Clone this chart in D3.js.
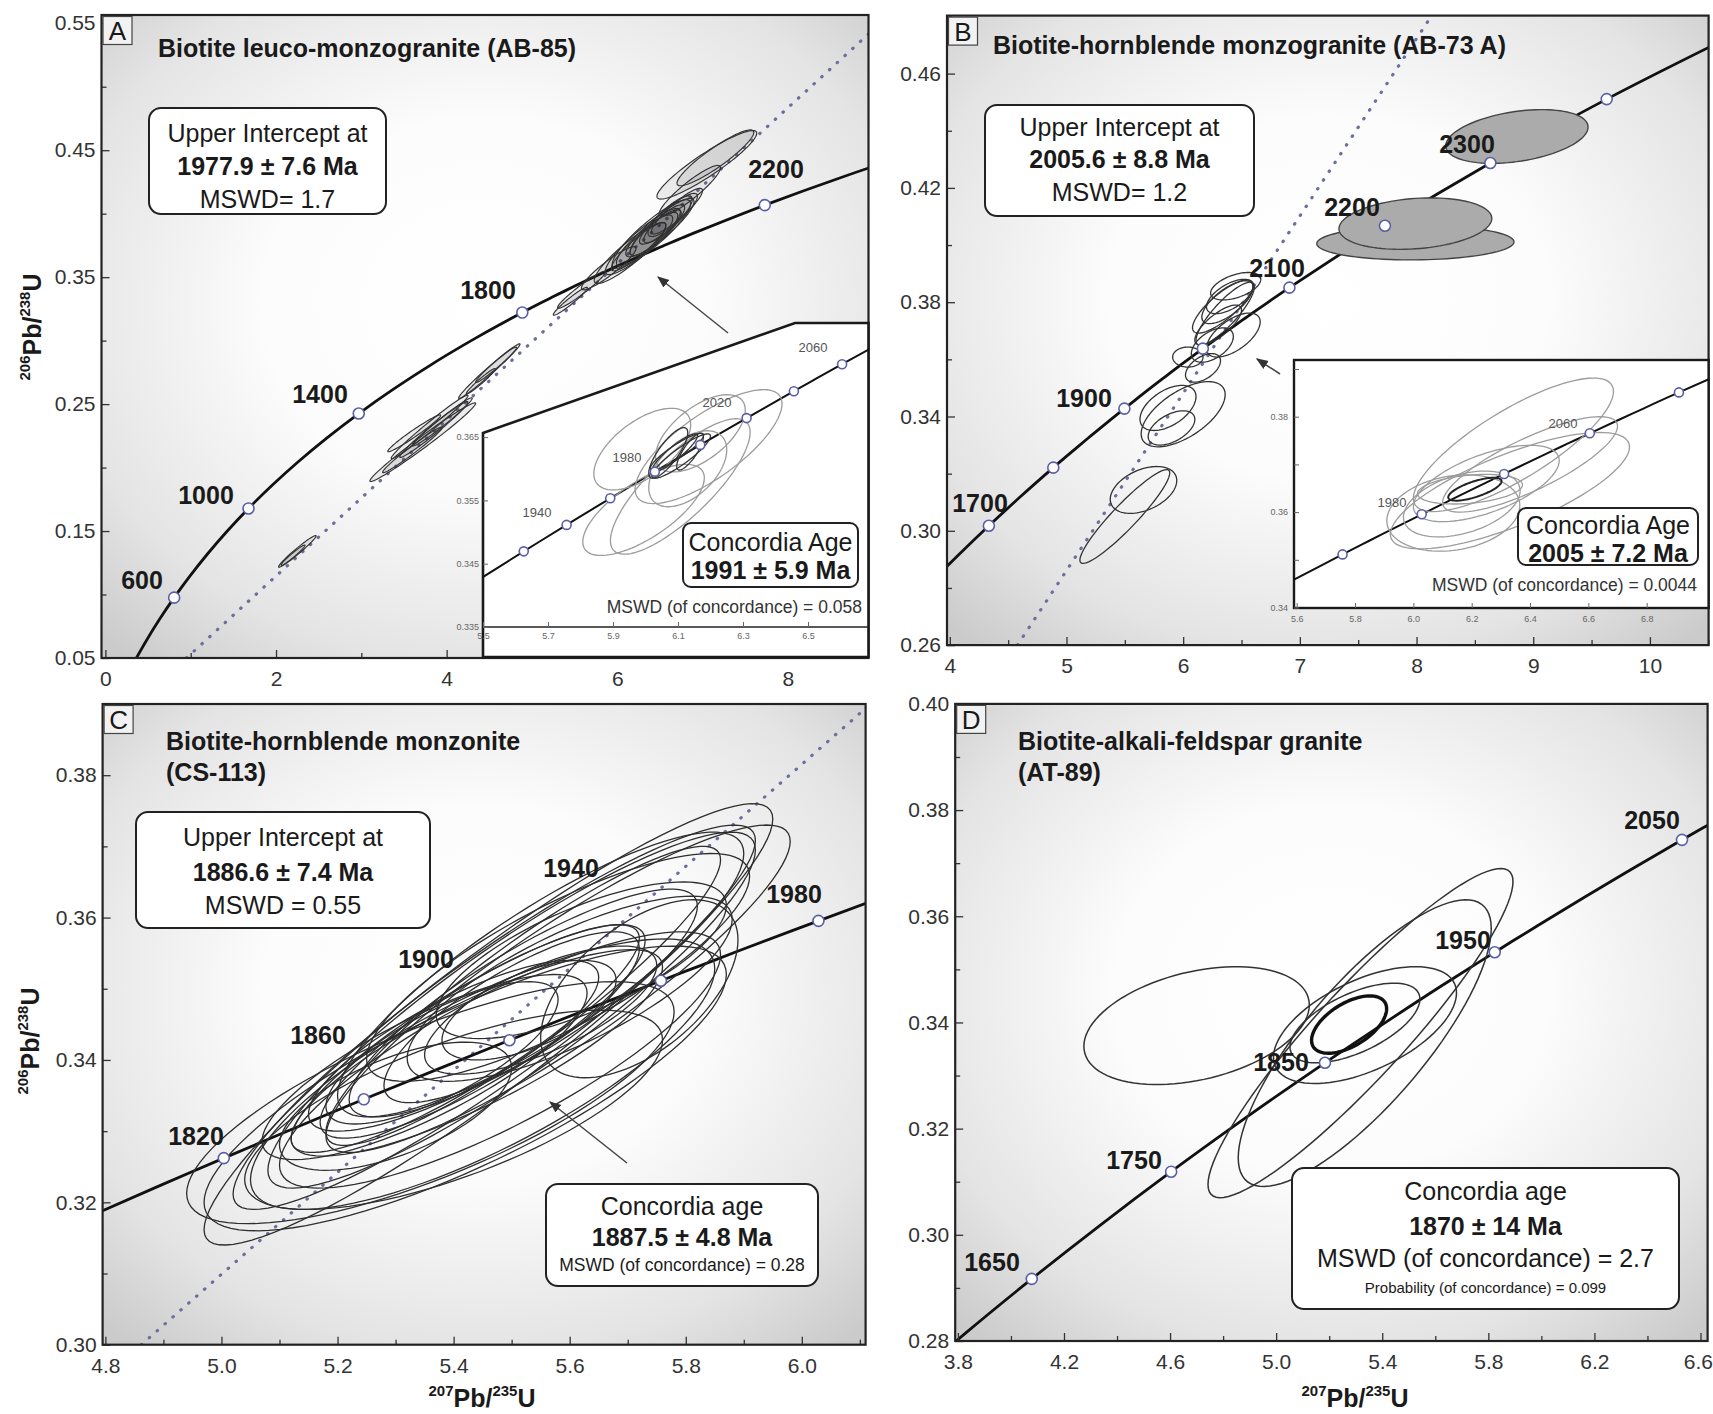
<!DOCTYPE html>
<html><head><meta charset="utf-8">
<script src="https://cdn.jsdelivr.net/npm/d3@7"></script>
<style>body{margin:0;background:#fff}svg{display:block}text{font-family:"Liberation Sans",Arial,sans-serif}</style>
</head><body><svg id="c" width="1713" height="1414"></svg>
<script>
// ================= DATA =================
// Concordia reference points (age Ma, 207Pb/235U, 206Pb/238U)
const concordiaAge = [300,400,500,600,700,800,900,1000,1100,1200,1300,1400,1500,1600,1650,1700,1750,1800,1820,1850,1860,1900,1920,1940,1950,1960,1980,2000,2020,2040,2050,2060,2080,2100,2200,2300,2400,2500];
const concordia207 = [0.3437,0.4828,0.6362,0.8057,0.9925,1.1988,1.4264,1.6774,1.9546,2.2603,2.5978,2.9699,3.3810,3.8344,4.0784,4.3348,4.6041,4.8869,5.0040,5.1840,5.2453,5.4962,5.6254,5.7572,5.8241,5.8916,6.0287,6.1685,6.3111,6.4566,6.5303,6.6049,6.7562,6.9105,7.7292,8.6326,9.6297,10.7297];
const concordia206 = [0.04764,0.06402,0.08065,0.09754,0.11470,0.13213,0.14983,0.16782,0.18606,0.20460,0.22343,0.24257,0.26199,0.28172,0.29170,0.30175,0.31189,0.32210,0.32621,0.33240,0.33447,0.34277,0.34695,0.35113,0.35322,0.35533,0.35954,0.36377,0.36800,0.37225,0.37439,0.37652,0.38080,0.38509,0.40674,0.42873,0.45107,0.47375];

// Panel A
const markersA = [600,1000,1400,1800,2200];
const labelsA = ["600","1000","1400","1800","2200"];
const discordiaA = [[0.95,0.05],[8.945,0.5415]];
const xTicksA = [0,2,4,6,8], xMinorA = [1,3,5,7];
const yTicksA = [0.05,0.15,0.25,0.35,0.45,0.55], yMinorA = [0.10,0.20,0.30,0.40,0.50];
// error ellipses: [x, sx, y, sy, rho]
const ellipsesA = [
 [2.25,0.22,0.134,0.0125,0.975],[2.20,0.14,0.131,0.0080,0.97],
 [3.72,0.62,0.220,0.0310,0.985],[3.62,0.31,0.227,0.0145,0.975],[3.85,0.40,0.230,0.0220,0.98],
 [3.95,0.35,0.236,0.0190,0.98],[3.60,0.35,0.214,0.0180,0.98],[3.80,0.45,0.232,0.0250,0.985],
 [4.50,0.36,0.276,0.0215,0.985],[4.58,0.24,0.281,0.0140,0.975],[4.40,0.17,0.268,0.0100,0.97],
 [5.45,0.20,0.331,0.0110,0.96],[5.58,0.28,0.340,0.0145,0.96],[5.90,0.32,0.357,0.0170,0.92],
 [6.15,0.42,0.369,0.0240,0.90],[6.30,0.44,0.378,0.0260,0.90],[6.40,0.46,0.384,0.0270,0.89],
 [6.35,0.36,0.380,0.0210,0.88],[6.50,0.40,0.389,0.0230,0.89],[6.25,0.32,0.374,0.0190,0.90],
 [6.45,0.30,0.385,0.0180,0.86],[6.60,0.34,0.396,0.0200,0.89],[6.55,0.24,0.392,0.0150,0.84],
 [6.70,0.30,0.402,0.0180,0.90],[6.85,0.36,0.418,0.0200,0.91],[7.05,0.585,0.4385,0.0270,0.92],
 [7.15,0.45,0.444,0.0220,0.91],[6.40,0.25,0.383,0.0160,0.82],[6.62,0.26,0.398,0.0160,0.83]
];
// Inset A
const insetAMarkers = [1920,1940,1960,1980,2000,2020,2040,2060];
const insetALabels = ["1940","1980","2020","2060"];
const insetAXTicks = [5.5,5.7,5.9,6.1,6.3,6.5];
const insetAYTicks = [0.335,0.345,0.355,0.365];
const insetAEllGrey = [
 [5.99,0.149,0.3631,0.00645,0.6],[5.994,0.187,0.3535,0.0072,0.7],[6.107,0.215,0.3572,0.0107,0.8],
 [6.194,0.226,0.3635,0.0090,0.75],[6.169,0.138,0.3656,0.0061,0.6],[6.13,0.12,0.3600,0.0060,0.5]
];
const insetAEllDark = [
 [6.097,0.082,0.3627,0.0029,0.9],[6.09,0.07,0.3625,0.0030,0.9],[6.11,0.09,0.3620,0.0035,0.9],
 [6.07,0.06,0.3625,0.0040,0.8],[6.137,0.041,0.3627,0.0029,0.8]
];

// Panel B
const markersB = [1700,1800,1900,2000,2100,2200,2300,2400];
const labelsB = ["1700","1900","2100","2200","2300"];
const discordiaB = [[4.58,0.26],[8.13,0.4803]];
const xTicksB = [4,5,6,7,8,9,10], xMinorB = [4.5,5.5,6.5,7.5,8.5,9.5,10.5];
const yTicksB = [0.26,0.30,0.34,0.38,0.42,0.46], yMinorB = [0.28,0.32,0.36,0.40,0.44,0.48];
const ellipsesB = [
 [6.45,0.215,0.3856,0.0048,0.5],[6.34,0.26,0.3785,0.0093,0.8],[6.38,0.22,0.3800,0.0075,0.7],
 [6.43,0.23,0.3685,0.0077,0.6],[6.30,0.20,0.3720,0.0070,0.75],[6.04,0.13,0.3608,0.0035,0.0],
 [6.17,0.15,0.3570,0.0050,0.5],[5.87,0.24,0.3430,0.0079,0.5],[6.00,0.36,0.3408,0.0114,0.6],
 [5.90,0.20,0.3360,0.0060,0.5],[5.66,0.285,0.3143,0.0082,0.4],[5.50,0.385,0.3050,0.0164,0.93],
 [6.40,0.20,0.3820,0.0060,0.6],[6.25,0.18,0.3650,0.0060,0.5],[6.36,0.25,0.3760,0.0110,0.85]
];
const ellipsesBFilled = [
 [8.86,0.61,0.438,0.0094,0.35],[7.99,0.845,0.4008,0.0060,0.05],[7.99,0.655,0.4075,0.0090,0.2]
];
// Inset B
const insetBMarkers = [1940,1980,2020,2060,2100];
const insetBLabels = ["1980","2060"];
const insetBXTicks = [5.6,5.8,6.0,6.2,6.4,6.6,6.8];
const insetBYTicks = [0.34,0.35,0.36,0.37,0.38,0.39];
const insetBEllGrey = [
 [6.343,0.343,0.3741,0.0140,0.8],[6.331,0.41,0.3645,0.0122,0.75],[6.194,0.18,0.3648,0.0031,0.3],
 [6.166,0.20,0.3617,0.0069,0.4],[6.40,0.30,0.3700,0.0100,0.8],[6.25,0.25,0.3660,0.0080,0.6],
 [6.137,0.228,0.3598,0.0080,0.2]
];
const insetBEllDark = [[6.211,0.0914,0.3648,0.0024,0.7]];

// Panel C
const markersC = [1820,1860,1900,1940,1980];
const labelsC = ["1820","1860","1900","1940","1980"];
const discordiaC = [[4.862,0.30],[6.11,0.3894]];
const xTicksC = [4.8,5.0,5.2,5.4,5.6,5.8,6.0], xMinorC = [4.9,5.1,5.3,5.5,5.7,5.9,6.1];
const yTicksC = [0.30,0.32,0.34,0.36,0.38], yMinorC = [0.31,0.33,0.35,0.37,0.39];
const ellipsesC = [
 [5.46,0.49,0.3450,0.0310,0.93],[5.47,0.45,0.3460,0.0270,0.92],[5.50,0.42,0.3470,0.0250,0.90],
 [5.42,0.45,0.3360,0.0200,0.80],[5.45,0.40,0.3380,0.0190,0.78],[5.48,0.38,0.3400,0.0180,0.82],
 [5.55,0.35,0.3520,0.0200,0.85],[5.58,0.33,0.3530,0.0160,0.80],[5.52,0.30,0.3480,0.0160,0.85],
 [5.45,0.28,0.3440,0.0150,0.85],[5.40,0.25,0.3420,0.0120,0.80],[5.50,0.22,0.3460,0.0120,0.80],
 [5.55,0.20,0.3470,0.0090,0.70],[5.60,0.28,0.3500,0.0130,0.75],[5.35,0.28,0.3390,0.0130,0.80],
 [5.38,0.20,0.3410,0.0100,0.75],[5.62,0.25,0.3540,0.0110,0.70],[5.53,0.15,0.3470,0.0070,0.60],
 [5.72,0.17,0.3500,0.0125,0.55],[5.30,0.20,0.3335,0.0090,0.60],[5.42,0.30,0.3430,0.0160,0.88],
 [5.58,0.40,0.3500,0.0230,0.90],[5.40,0.36,0.3330,0.0140,0.70],[5.36,0.42,0.3340,0.0170,0.75],
 [5.52,0.34,0.3490,0.0210,0.91],[5.44,0.32,0.3410,0.0145,0.83]
];

// Panel D
const markersD = [1650,1750,1850,1950,2050];
const labelsD = ["1650","1750","1850","1950","2050"];
const xTicksD = [3.8,4.2,4.6,5.0,5.4,5.8,6.2,6.6], xMinorD = [4.0,4.4,4.8,5.2,5.6,6.0,6.4];
const yTicksD = [0.28,0.30,0.32,0.34,0.36,0.38,0.40], yMinorD = [0.29,0.31,0.33,0.35,0.37,0.39];
const ellipsesD = [
 [4.70,0.425,0.3394,0.0111,0.35],[5.318,0.575,0.338,0.031,0.92],[5.334,0.477,0.3361,0.027,0.80],
 [5.335,0.345,0.3395,0.011,0.55],[5.297,0.245,0.3399,0.0075,0.6]
];
const ellipsesDBold = [[5.275,0.1415,0.3396,0.0054,0.55]];

// ================= DRAWING =================
const FONT = '"Liberation Sans",Arial,sans-serif';
const svg = d3.select('#c');
const defs = svg.append('defs');
const grad = defs.append('radialGradient').attr('id','bg').attr('cx','50%').attr('cy','45%').attr('r','72%');
[[0,'#ffffff'],[0.4,'#fcfcfc'],[0.78,'#e4e4e4'],[1,'#cbcbcb']].forEach(([o,c])=>grad.append('stop').attr('offset',o).attr('stop-color',c));
defs.append('marker').attr('id','arr').attr('viewBox','0 0 10 10').attr('refX',9).attr('refY',5)
  .attr('markerWidth',12).attr('markerHeight',12).attr('markerUnits','userSpaceOnUse').attr('orient','auto')
  .append('path').attr('d','M0,1 L10,5 L0,9 z').attr('fill','#333');

const T = d3.range(0,97).map(i=>i/96*2*Math.PI);
function ellPath(x,y,e){
  const [cx,sx,cy,sy,r]=e, q=Math.sqrt(1-r*r);
  return d3.line()(T.map(t=>[x(cx+sx*Math.cos(t)), y(cy+sy*(r*Math.cos(t)+q*Math.sin(t)))]))+'Z';
}
const concPts = concordiaAge.map((a,i)=>[concordia207[i],concordia206[i]]);
function concAt(a){const i=concordiaAge.indexOf(a);return [concordia207[i],concordia206[i]];}

function drawEllipses(g,x,y,arr,stroke,width,fill){
  g.selectAll(null).data(arr).enter().append('path').attr('d',d=>ellPath(x,y,d))
   .attr('fill',fill||'none').attr('stroke',stroke).attr('stroke-width',width);
}
function drawMarkers(g,x,y,ages,r){
  g.selectAll(null).data(ages).enter().append('circle')
   .attr('cx',a=>x(concAt(a)[0])).attr('cy',a=>y(concAt(a)[1])).attr('r',r)
   .attr('fill','#fff').attr('stroke','#5a5ea8').attr('stroke-width',1.6);
}
function txt(g,s,x,y,opt={}){
  return g.append('text').attr('x',x).attr('y',y).attr('text-anchor',opt.anchor||'middle')
   .attr('dominant-baseline','central').attr('font-size',opt.size||25).attr('font-weight',opt.bold?'bold':'normal')
   .attr('fill',opt.fill||'#1a1a1a').text(s);
}
function box(g,x0,y0,x1,y1,lines,rx=12){
  g.append('rect').attr('x',x0).attr('y',y0).attr('width',x1-x0).attr('height',y1-y0).attr('rx',rx)
   .attr('fill','#fff').attr('stroke','#222').attr('stroke-width',2);
  lines.forEach(l=>txt(g,l.t,(x0+x1)/2,l.y,{bold:l.b,size:l.s||25}));
}
function ratioLabel(g,x,y,top,bot,rotate){
  const t=g.append('text').attr('font-weight','bold').attr('font-size',25).attr('fill','#1a1a1a')
    .attr('text-anchor','middle').attr('dominant-baseline','central')
    .attr('transform',`translate(${x},${y})`+(rotate?' rotate(-90)':''));
  t.append('tspan').attr('font-size',15).attr('dy',-8).text(top);
  t.append('tspan').attr('dy',8).text('Pb/');
  t.append('tspan').attr('font-size',15).attr('dy',-8).text(bot);
  t.append('tspan').attr('dy',8).text('U');
}

function panel(P){
  const x=d3.scaleLinear().domain(P.xd).range([P.L,P.R]);
  const y=d3.scaleLinear().domain(P.yd).range([P.B,P.T]);
  const g=svg.append('g');
  g.append('rect').attr('x',P.L).attr('y',P.T).attr('width',P.R-P.L).attr('height',P.B-P.T).attr('fill','url(#bg)');
  defs.append('clipPath').attr('id','clip'+P.id).append('rect').attr('x',P.L).attr('y',P.T).attr('width',P.R-P.L).attr('height',P.B-P.T);
  const pg=g.append('g').attr('clip-path',`url(#clip${P.id})`);
  if(P.disc) pg.append('path').attr('d',d3.line()(P.disc.map(d=>[x(d[0]),y(d[1])])))
     .attr('fill','none').attr('stroke','#6b6f9e').attr('stroke-width',3.2).attr('stroke-dasharray','0.5,10').attr('stroke-linecap','round');
  pg.append('path').datum(concPts).attr('d',d3.line().x(d=>x(d[0])).y(d=>y(d[1])).curve(d3.curveCatmullRom.alpha(0.5)))
     .attr('fill','none').attr('stroke','#111').attr('stroke-width',2.8);
  P.ell(pg,x,y);
  drawMarkers(pg,x,y,P.markers,5.5);
  // axes
  const ax=g.append('g').attr('transform',`translate(0,${P.B})`)
    .call(d3.axisBottom(x).tickValues(P.xt).tickSize(-8).tickPadding(13).tickFormat(P.xf));
  const axm=g.append('g').attr('transform',`translate(0,${P.B})`)
    .call(d3.axisBottom(x).tickValues(P.xm).tickSize(-5).tickFormat(''));
  const ay=g.append('g').attr('transform',`translate(${P.L},0)`)
    .call(d3.axisLeft(y).tickValues(P.yt).tickSize(-8).tickPadding(6).tickFormat(P.yf));
  const aym=g.append('g').attr('transform',`translate(${P.L},0)`)
    .call(d3.axisLeft(y).tickValues(P.ym).tickSize(-5).tickFormat(''));
  [ax,axm,ay,aym].forEach(a=>{a.select('.domain').remove();a.attr('font-size',21).attr('font-family',FONT).attr('color','#333');a.selectAll('line').attr('stroke','#333').attr('stroke-width',1.3);});
  // keep the last x label inside the page
  const lastX = ax.selectAll('.tick text').filter((d,i,n)=>i===n.length-1);
  if (x(P.xt[P.xt.length-1])+20>1713) lastX.attr('text-anchor','end').attr('x',12);
  g.append('rect').attr('x',P.L).attr('y',P.T).attr('width',P.R-P.L).attr('height',P.B-P.T)
    .attr('fill','none').attr('stroke','#222').attr('stroke-width',2.2);
  // letter
  g.append('rect').attr('x',P.L+1.5).attr('y',P.T+1.5).attr('width',29).attr('height',28).attr('fill','#f2f2f2').attr('stroke','#444').attr('stroke-width',1.2);
  txt(g,P.letter,P.L+16,P.T+16,{size:26});
  // titles
  P.title.forEach((t,i)=>txt(g,t,P.titleX,P.titleY+i*31,{anchor:'start',bold:true}));
  // concordia labels
  P.labels.forEach((l,i)=>txt(g,l,P.labelPos[i][0],P.labelPos[i][1],{bold:true}));
  return {g,x,y};
}

// ---- Panel A ----
const A=panel({id:'A',L:101.5,R:868.5,T:15,B:658,xd:[-0.0457,8.945],yd:[0.05,0.5565],
  xt:xTicksA,xm:xMinorA,yt:yTicksA,ym:yMinorA,xf:d3.format('d'),yf:d3.format('.2f'),disc:discordiaA,markers:markersA,
  ell:(g,x,y)=>drawEllipses(g,x,y,ellipsesA,'#333',1.15,'rgba(40,40,40,0.08)'),
  letter:'A',title:['Biotite leuco-monzogranite (AB-85)'],titleX:158,titleY:48,
  labels:labelsA,labelPos:[[142,580],[206,495],[320,394],[488,290],[776,169]]});
box(A.g,149,108,386,214,[{t:'Upper Intercept at',y:133},{t:'1977.9 ± 7.6 Ma',y:166,b:true},{t:'MSWD= 1.7',y:199}]);
A.g.append('line').attr('x1',728).attr('y1',333).attr('x2',658).attr('y2',277).attr('stroke','#444').attr('stroke-width',1.5).attr('marker-end','url(#arr)');
ratioLabel(svg,32,327,'206','238',true);

// ---- Inset A ----
(function(){
  const g=svg.append('g');
  const poly=[[483,433],[795,323],[868.5,323],[868.5,657],[483,657]];
  g.append('path').attr('d',d3.line()(poly)+'Z').attr('fill','#fff').attr('stroke','#1a1a1a').attr('stroke-width',2.6);
  const x=d3.scaleLinear().domain([5.5,6.5]).range([483,808]);
  const y=d3.scaleLinear().domain([0.335,0.365]).range([627,437.1]);
  defs.append('clipPath').attr('id','clipIA').append('path').attr('d',d3.line()([[483,433],[795,323],[868.5,323],[868.5,627],[483,627]])+'Z');
  const pg=g.append('g').attr('clip-path','url(#clipIA)');
  pg.append('path').datum(concPts).attr('d',d3.line().x(d=>x(d[0])).y(d=>y(d[1])).curve(d3.curveCatmullRom.alpha(0.5)))
     .attr('fill','none').attr('stroke','#111').attr('stroke-width',2);
  drawEllipses(pg,x,y,insetAEllGrey,'#9c9c9c',1.3);
  drawEllipses(pg,x,y,insetAEllDark,'#333',1.3);
  drawMarkers(pg,x,y,insetAMarkers,4.5);
  g.append('line').attr('x1',483).attr('x2',868.5).attr('y1',627).attr('y2',627).attr('stroke','#222').attr('stroke-width',1.6);
  const ax=g.append('g').attr('transform','translate(0,627)').call(d3.axisBottom(x).tickValues(insetAXTicks).tickSize(-5).tickPadding(6).tickFormat(d3.format('.1f')));
  const ay=g.append('g').attr('transform','translate(483,0)').call(d3.axisLeft(y).tickValues(insetAYTicks).tickSize(-5).tickPadding(4).tickFormat(d3.format('.3f')));
  [ax,ay].forEach(a=>{a.select('.domain').remove();a.attr('font-size',9).attr('font-family',FONT).attr('color','#666');});
  const lp=[[537,512],[627,457],[717,402],[813,347]];
  insetALabels.forEach((l,i)=>txt(g,l,lp[i][0],lp[i][1],{size:13,fill:'#555'}));
  box(g,683,523,858,587,[{t:'Concordia Age',y:541.5},{t:'1991 ±  5.9 Ma',y:569.5,b:true}],8);
  txt(g,'MSWD (of concordance) = 0.058',862,607,{anchor:'end',size:17.5,fill:'#333'});
})();

// ---- Panel B ----
const B=panel({id:'B',L:947,R:1708.6,T:15.6,B:645.1,xd:[3.976,10.503],yd:[0.26,0.4803],
  xt:xTicksB,xm:xMinorB,yt:yTicksB,ym:yMinorB,xf:d3.format('d'),yf:d3.format('.2f'),disc:discordiaB,markers:markersB,
  ell:(g,x,y)=>{drawEllipses(g,x,y,ellipsesB,'#333',1.3);drawEllipses(g,x,y,ellipsesBFilled,'#444',1.4,'#ababab');},
  letter:'B',title:['Biotite-hornblende monzogranite (AB-73 A)'],titleX:993,titleY:45,
  labels:labelsB,labelPos:[[980,503],[1084,398],[1277,268],[1352,207],[1467,144]]});
box(B.g,985,105,1254,216,[{t:'Upper Intercept at',y:127},{t:'2005.6 ± 8.8 Ma',y:159,b:true},{t:'MSWD= 1.2',y:192}]);
B.g.append('line').attr('x1',1280).attr('y1',374).attr('x2',1257).attr('y2',359).attr('stroke','#444').attr('stroke-width',1.5).attr('marker-end','url(#arr)');

// ---- Inset B ----
(function(){
  const g=svg.append('g');
  const L=1294,R=1708.6,Tt=360,Bt=608;
  g.append('rect').attr('x',L).attr('y',Tt).attr('width',R-L).attr('height',Bt-Tt).attr('fill','#fff').attr('stroke','#1a1a1a').attr('stroke-width',2.4);
  const x=d3.scaleLinear().domain([5.6,6.8]).range([1296.7,1646.7]);
  const y=d3.scaleLinear().domain([0.34,0.38]).range([607.5,416.7]);
  defs.append('clipPath').attr('id','clipIB').append('rect').attr('x',L).attr('y',Tt).attr('width',R-L).attr('height',Bt-Tt);
  const pg=g.append('g').attr('clip-path','url(#clipIB)');
  pg.append('path').datum(concPts).attr('d',d3.line().x(d=>x(d[0])).y(d=>y(d[1])).curve(d3.curveCatmullRom.alpha(0.5)))
     .attr('fill','none').attr('stroke','#111').attr('stroke-width',2);
  drawEllipses(pg,x,y,insetBEllGrey,'#9c9c9c',1.3);
  drawEllipses(pg,x,y,insetBEllDark,'#222',2);
  drawMarkers(pg,x,y,insetBMarkers,4.5);
  const ax=g.append('g').attr('transform',`translate(0,${Bt})`).call(d3.axisBottom(x).tickValues(insetBXTicks).tickSize(-5).tickPadding(8).tickFormat(d3.format('.1f')));
  const ay=g.append('g').attr('transform',`translate(${L},0)`).call(d3.axisLeft(y).tickValues(insetBYTicks).tickSize(-5).tickPadding(6).tickFormat(d=>[0.34,0.36,0.38].some(v=>Math.abs(v-d)<1e-6)?d3.format('.2f')(d):''));
  [ax,ay].forEach(a=>{a.select('.domain').remove();a.attr('font-size',9).attr('font-family',FONT).attr('color','#666');});
  const lp=[[1392,502],[1563,423]];
  insetBLabels.forEach((l,i)=>txt(g,l,lp[i][0],lp[i][1],{size:13,fill:'#555'}));
  box(g,1518,508,1698,565,[{t:'Concordia Age',y:525},{t:'2005 ± 7.2 Ma',y:553,b:true}],8);
  txt(g,'MSWD (of concordance) = 0.0044',1697,585,{anchor:'end',size:17.5,fill:'#333'});
})();

// ---- Panel C ----
const C=panel({id:'C',L:102.6,R:865.6,T:704,B:1344.7,xd:[4.7952,6.1099],yd:[0.30,0.39],
  xt:xTicksC,xm:xMinorC,yt:yTicksC,ym:yMinorC,xf:d3.format('.1f'),yf:d3.format('.2f'),disc:discordiaC,markers:markersC,
  ell:(g,x,y)=>drawEllipses(g,x,y,ellipsesC,'#2e2e2e',1.3),
  letter:'C',title:['Biotite-hornblende monzonite','(CS-113)'],titleX:166,titleY:741,
  labels:labelsC,labelPos:[[196,1136],[318,1035],[426,959],[571,868],[794,894]]});
box(C.g,136,812,430,928,[{t:'Upper Intercept at',y:837},{t:'1886.6 ± 7.4 Ma',y:872,b:true},{t:'MSWD = 0.55',y:905}]);
box(C.g,546,1184,818,1286,[{t:'Concordia age',y:1206},{t:'1887.5 ± 4.8 Ma',y:1237,b:true},{t:'MSWD (of concordance) = 0.28',y:1265,s:17.5}]);
C.g.append('line').attr('x1',627).attr('y1',1163).attr('x2',550).attr('y2',1102).attr('stroke','#444').attr('stroke-width',1.5).attr('marker-end','url(#arr)');
ratioLabel(svg,30,1041,'206','238',true);
ratioLabel(svg,482,1398,'207','235',false);

// ---- Panel D ----
const D=panel({id:'D',L:955.2,R:1707.6,T:703.9,B:1341,xd:[3.7898,6.6268],yd:[0.28,0.40],
  xt:xTicksD,xm:xMinorD,yt:yTicksD,ym:yMinorD,xf:d3.format('.1f'),yf:d3.format('.2f'),disc:null,markers:markersD,
  ell:(g,x,y)=>{drawEllipses(g,x,y,ellipsesD,'#333',1.5);drawEllipses(g,x,y,ellipsesDBold,'#111',3.4);},
  letter:'D',title:['Biotite-alkali-feldspar granite','(AT-89)'],titleX:1018,titleY:741,
  labels:labelsD,labelPos:[[992,1262],[1134,1160],[1281,1062],[1463,940],[1652,820]]});
box(D.g,1292,1168,1679,1309,[{t:'Concordia age',y:1191},{t:'1870 ± 14 Ma',y:1225.5,b:true},{t:'MSWD (of concordance) = 2.7',y:1258},{t:'Probability (of concordance) = 0.099',y:1287,s:15}]);
ratioLabel(svg,1355,1398,'207','235',false);
</script></body></html>
